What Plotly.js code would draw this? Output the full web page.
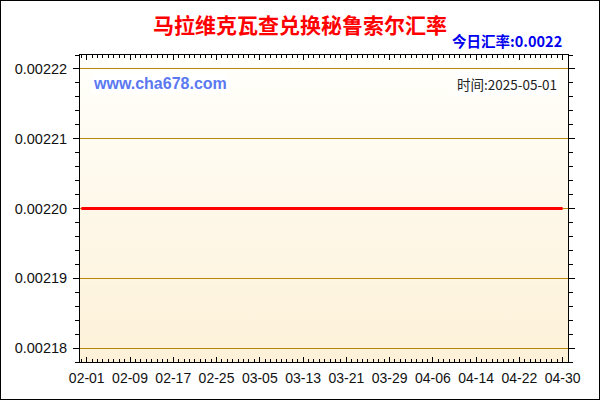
<!DOCTYPE html>
<html>
<head>
<meta charset="utf-8">
<script src="https://cdn.plot.ly/plotly-3.0.1.min.js"></script>
<style>
  body { margin: 0; background: #fff; }
  #wrap { position: relative; width: 600px; height: 400px; }
  #chart { width: 600px; height: 400px; }
  #frame { position: absolute; left: 0; top: 0; width: 598px; height: 398px; border: 1px solid #000; pointer-events: none; }
</style>
</head>
<body>
<div id="wrap">
  <div id="chart"></div>
  <div id="frame"></div>
</div>
<script>
// rate series (flat over the period)
var dates = ['2025-01-31', '2025-02-01', '2025-02-09', '2025-02-17', '2025-02-25', '2025-03-05',
             '2025-03-13', '2025-03-21', '2025-03-29', '2025-04-06', '2025-04-14', '2025-04-22', '2025-04-30'];
var rates = [0.0022, 0.0022, 0.0022, 0.0022, 0.0022, 0.0022,
             0.0022, 0.0022, 0.0022, 0.0022, 0.0022, 0.0022, 0.0022];
var tickDates = ['2025-02-01', '2025-02-09', '2025-02-17', '2025-02-25', '2025-03-05', '2025-03-13',
                 '2025-03-21', '2025-03-29', '2025-04-06', '2025-04-14', '2025-04-22', '2025-04-30'];
var tickText = ['02-01', '02-09', '02-17', '02-25', '03-05', '03-13',
                '03-21', '03-29', '04-06', '04-14', '04-22', '04-30'];
var yTicks = [0.00218, 0.00219, 0.00220, 0.00221, 0.00222];
var yText = ['0.00218', '0.00219', '0.00220', '0.00221', '0.00222'];

var titleText = '马拉维克瓦查兑换秘鲁索尔汇率';
var todayText = '今日汇率:0.0022';
var dateText = '时间:2025-05-01';
var siteText = 'www.cha678.com';

var grad = '<svg xmlns="http://www.w3.org/2000/svg" width="10" height="100" preserveAspectRatio="none">' +
  '<defs><linearGradient id="g" x1="0" y1="0" x2="0" y2="1">' +
  '<stop offset="0" stop-color="#FFFFFB"/><stop offset="1" stop-color="#FDF1D8"/></linearGradient></defs>' +
  '<rect width="10" height="100" fill="url(#g)"/></svg>';

var line = {
  x: dates,
  y: rates,
  type: 'scatter',
  mode: 'lines',
  line: {color: '#FF0000', width: 3},
  hoverinfo: 'skip'
};

var layout = {
  width: 600,
  height: 400,
  margin: {l: 80, r: 32, t: 55, b: 38},
  paper_bgcolor: '#ffffff',
  plot_bgcolor: 'rgba(0,0,0,0)',
  showlegend: false,
  title: {
    text: titleText,
    x: 0.5, xanchor: 'center', y: 0.935, yanchor: 'middle',
    font: {family: 'Noto Sans CJK SC, sans-serif', size: 21, color: '#FF0000', weight: 'bold'}
  },
  xaxis: {
    type: 'date',
    range: ['2025-01-30 18:00', '2025-05-01 00:00'],
    tickvals: tickDates,
    ticktext: tickText,
    ticks: 'inside', ticklen: 5, tickcolor: '#000',
    minor: {dtick: 86400000, tick0: '2025-01-31', ticks: 'inside', ticklen: 3, tickcolor: '#000', showgrid: false},
    showline: true, linecolor: '#000', linewidth: 1, mirror: 'allticks',
    showgrid: false, zeroline: false,
    ticklabelstandoff: 3,
    tickfont: {family: 'Liberation Sans, Arial, sans-serif', size: 14, color: '#111'},
    fixedrange: true
  },
  yaxis: {
    range: [0.002178, 0.002222],
    tickvals: yTicks,
    ticktext: yText,
    ticks: 'outside', ticklen: 6, tickcolor: '#000',
    minor: {dtick: 0.000002, tick0: 0.00218, ticks: 'outside', ticklen: 4, tickcolor: '#000', showgrid: false},
    showline: true, linecolor: '#000', linewidth: 1, mirror: 'allticks',
    showgrid: true, gridcolor: '#B8860B', gridwidth: 1, zeroline: false,
    ticklabelstandoff: 3,
    tickfont: {family: 'Liberation Sans, Arial, sans-serif', size: 14.5, color: '#111'},
    fixedrange: true
  },
  images: [{
    source: 'data:image/svg+xml;charset=utf-8,' + encodeURIComponent(grad),
    xref: 'paper', yref: 'paper', x: 0, y: 1, sizex: 1, sizey: 1,
    xanchor: 'left', yanchor: 'top', sizing: 'stretch', layer: 'below'
  }],
  annotations: [
    {
      text: todayText, xref: 'paper', yref: 'paper', x: 1, y: 1, xanchor: 'right', yanchor: 'bottom',
      xshift: -4, yshift: 2, showarrow: false,
      font: {family: 'Noto Sans CJK SC, sans-serif', size: 14.5, color: '#0000EE', weight: 'bold'}
    },
    {
      text: siteText, xref: 'paper', yref: 'paper', x: 0, y: 1, xanchor: 'left', yanchor: 'top',
      xshift: 11, yshift: -18, showarrow: false, bgcolor: '#ffffff', borderpad: 1,
      font: {family: 'Liberation Sans, Arial, sans-serif', size: 16, color: '#5B78F0', weight: 'bold'}
    },
    {
      text: dateText, xref: 'paper', yref: 'paper', x: 1, y: 1, xanchor: 'right', yanchor: 'top',
      xshift: -9, yshift: -17, showarrow: false, bgcolor: '#ffffff', borderpad: 1,
      font: {family: 'Noto Sans CJK SC, sans-serif', size: 13.5, color: '#222'}
    }
  ]
};

Plotly.newPlot('chart', [line], layout, {displayModeBar: false, staticPlot: true});
</script>
</body>
</html>
